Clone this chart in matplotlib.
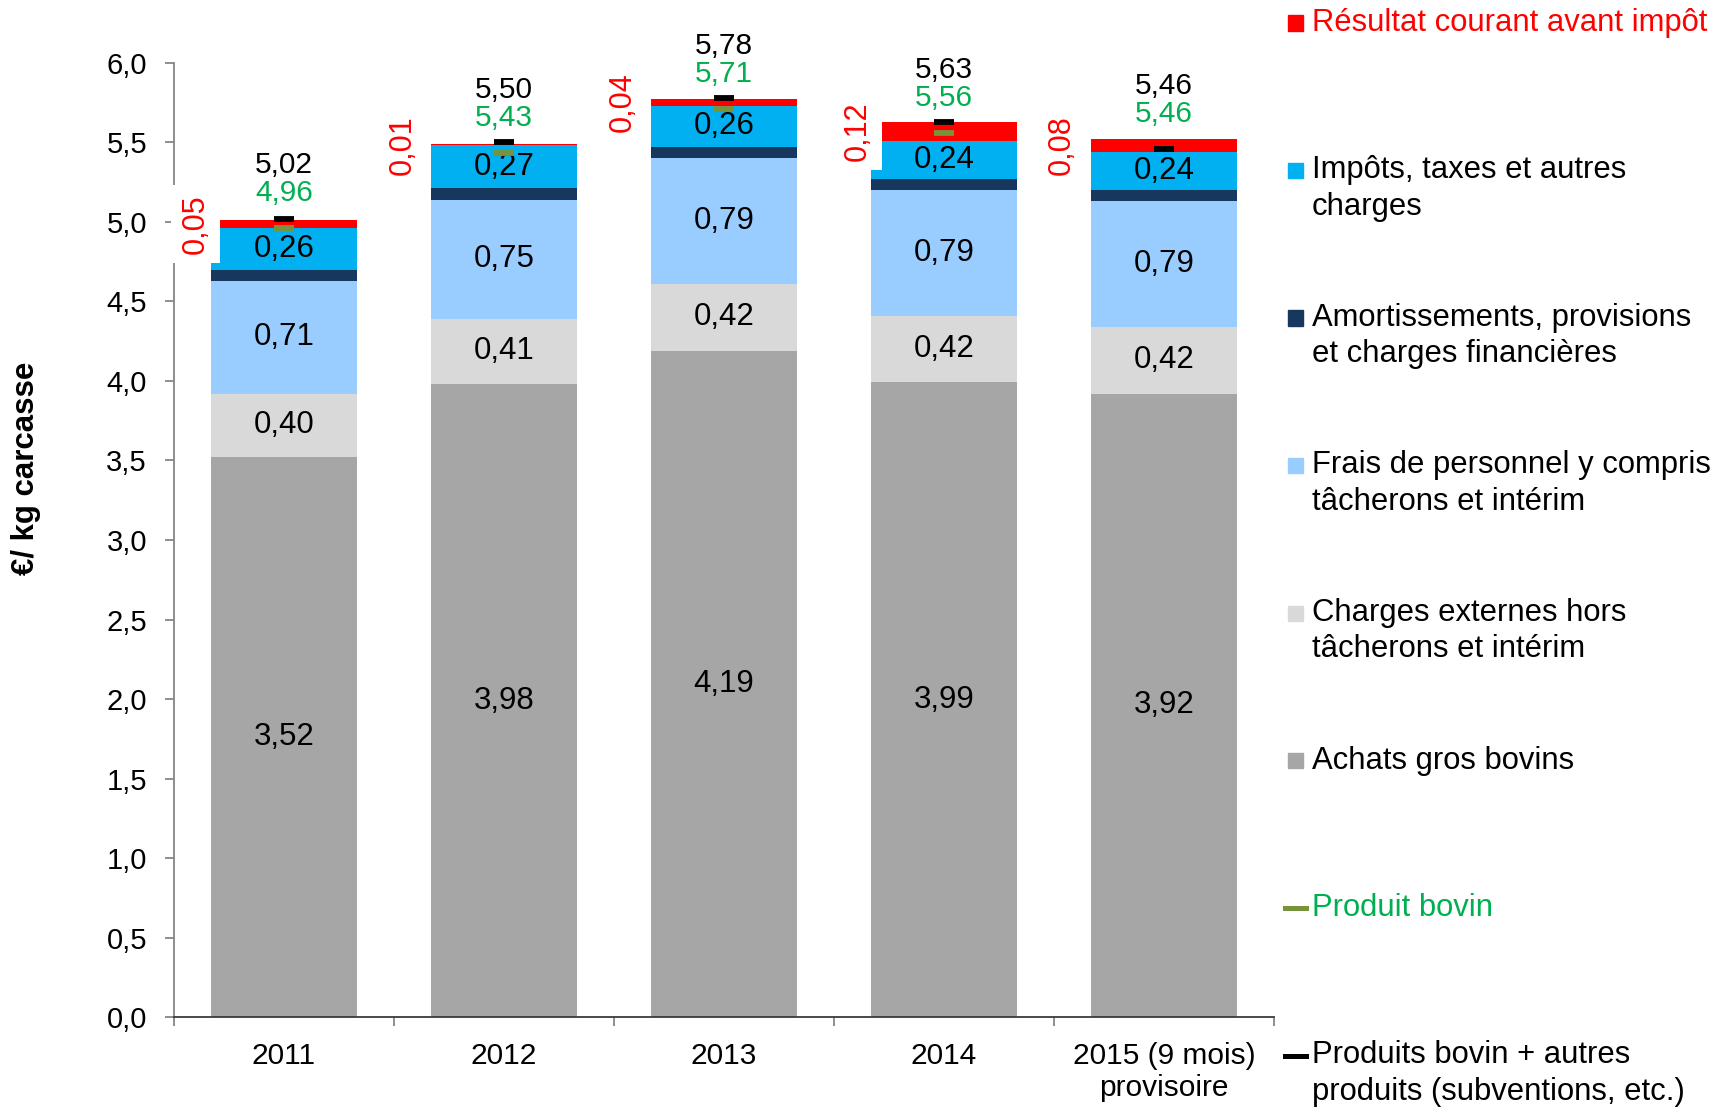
import matplotlib.pyplot as plt
from matplotlib.patches import Rectangle
from matplotlib.lines import Line2D
from matplotlib.ticker import FuncFormatter
import numpy as np

plt.rcParams['font.family'] = ['Liberation Sans', 'DejaVu Sans']

# data (€/kg carcasse)
years = ["2011", "2012", "2013", "2014", "2015 (9 mois)\nprovisoire"]
achats = [3.52, 3.98, 4.19, 3.99, 3.92]
charges_ext = [0.40, 0.41, 0.42, 0.42, 0.42]
frais_perso = [0.71, 0.75, 0.79, 0.79, 0.79]
amortissements = [0.07, 0.07, 0.07, 0.07, 0.07]
impots = [0.26, 0.27, 0.26, 0.24, 0.24]
resultat = [0.05, 0.01, 0.04, 0.12, 0.08]
produits_total = [5.02, 5.50, 5.78, 5.63, 5.46]
produit_bovin = [4.96, 5.43, 5.71, 5.56, 5.46]

legend_labels = [
    "Résultat courant avant impôt",
    "Impôts, taxes et autres\ncharges",
    "Amortissements, provisions\net charges financières",
    "Frais de personnel y compris\ntâcherons et intérim",
    "Charges externes hors\ntâcherons et intérim",
    "Achats gros bovins",
    "Produit bovin",
    "Produits bovin + autres\nproduits (subventions, etc.)",
]

W, H = 1726, 1112
fig = plt.figure(figsize=(W / 100, H / 100), dpi=100)
ax = fig.add_axes([174 / W, (H - 1017.3) / H, 1100 / W, (1017.3 - 62.7) / H])

def fr(v, nd=2):
    return f"{v:.{nd}f}".replace('.', ',')

x = np.arange(len(years))
bw = 0.667
series = [
    (achats, '#A6A6A6', True),
    (charges_ext, '#D9D9D9', True),
    (frais_perso, '#99CCFF', True),
    (amortissements, '#17375E', False),
    (impots, '#00B0F0', True),
    (resultat, '#FF0000', False),
]
bottom = np.zeros(len(years))
for vals, col, show in series:
    vals = np.array(vals)
    ax.bar(x, vals, bw, bottom=bottom, color=col, zorder=2)
    if show:
        for xi, b, v in zip(x, bottom, vals):
            ax.text(xi, b + v / 2, fr(v), ha='center', va='center', fontsize=22.5, zorder=3)
    bottom += vals

# résultat labels, rotated, left of each bar (white box)
res_dx = [-15, -28, -28, -13, -29]
res_bottom = bottom - np.array(resultat)
for xi, b, v, dx in zip(x, res_bottom, resultat, res_dx):
    ax.annotate(fr(v), xy=(xi - bw / 2, b + v / 2), xytext=(dx, 0), textcoords='offset pixels',
                rotation=90, ha='center', va='center', fontsize=22, color='#FF0000', zorder=6,
                bbox=dict(boxstyle='square,pad=0.3', fc='white', ec='none'),
                annotation_clip=False)

# product markers
ax.plot(x, produit_bovin, ls='none', marker='_', ms=15, mew=4.2, color='#77933C', zorder=4)
ax.plot(x, produits_total, ls='none', marker='_', ms=15, mew=4.2, color='black', zorder=4.5)
for xi, g, t in zip(x, produit_bovin, produits_total):
    ax.annotate(fr(g), xy=(xi, g), xytext=(0, 35), textcoords='offset pixels', ha='center',
                va='center', fontsize=21.5, color='#00B050', annotation_clip=False)
    ax.annotate(fr(t), xy=(xi, g), xytext=(0, 63), textcoords='offset pixels', ha='center',
                va='center', fontsize=21.5, color='black', annotation_clip=False)

ax.set_xlim(-0.5, len(years) - 0.5)
ax.set_ylim(0, 6)
ax.set_yticks(np.arange(0, 6.01, 0.5))
ax.yaxis.set_major_formatter(FuncFormatter(lambda v, p: fr(v, 1)))
ax.set_xticks(x)
ax.set_xticklabels(years)
ax.set_xticks(np.arange(-0.5, len(years), 1.0), minor=True)
ax.tick_params(axis='y', length=6.5, width=1.3, color='#868686', labelsize=21, pad=13)
ax.tick_params(axis='x', which='major', length=0, labelsize=21.5, pad=17.5)
ax.tick_params(axis='x', which='minor', length=6.5, width=1.3, color='#868686')
for s in ['top', 'right']:
    ax.spines[s].set_visible(False)
ax.spines['left'].set_color('#868686')
ax.spines['left'].set_linewidth(1.3)
ax.spines['bottom'].set_color('#3a3a3a')
ax.spines['bottom'].set_linewidth(1.3)

fig.text(26 / W, 1 - 468 / H, "€/ kg carcasse", rotation=90, ha='center', va='center',
         fontsize=22.5, fontweight='bold')

# legend drawn by hand on the right
leg_y = [23, 170.5, 318, 465.5, 613, 760.5, 908, 1055.5]
leg_colors = ['#FF0000', '#00B0F0', '#17375E', '#99CCFF', '#D9D9D9', '#A6A6A6', '#77933C', 'black']
leg_txt_colors = ['#FF0000', 'black', 'black', 'black', 'black', 'black', '#00B050', 'black']
for i, (lab, yc) in enumerate(zip(legend_labels, leg_y)):
    nlines = lab.count('\n') + 1
    ty = yc + 18 * (nlines - 1)
    fig.text(1312 / W, 1 - ty / H, lab, ha='left', va='center', fontsize=22.3,
             color=leg_txt_colors[i], linespacing=1.28)
    if i < 6:
        fig.add_artist(Rectangle((1288 / W, 1 - (yc + 7.5) / H), 15 / W, 15 / H,
                                 transform=fig.transFigure, color=leg_colors[i]))
    else:
        fig.add_artist(Line2D([1285 / W, 1306 / W], [1 - yc / H] * 2, lw=3.6,
                              color=leg_colors[i], transform=fig.transFigure))

fig.savefig("out.png", dpi=100)
